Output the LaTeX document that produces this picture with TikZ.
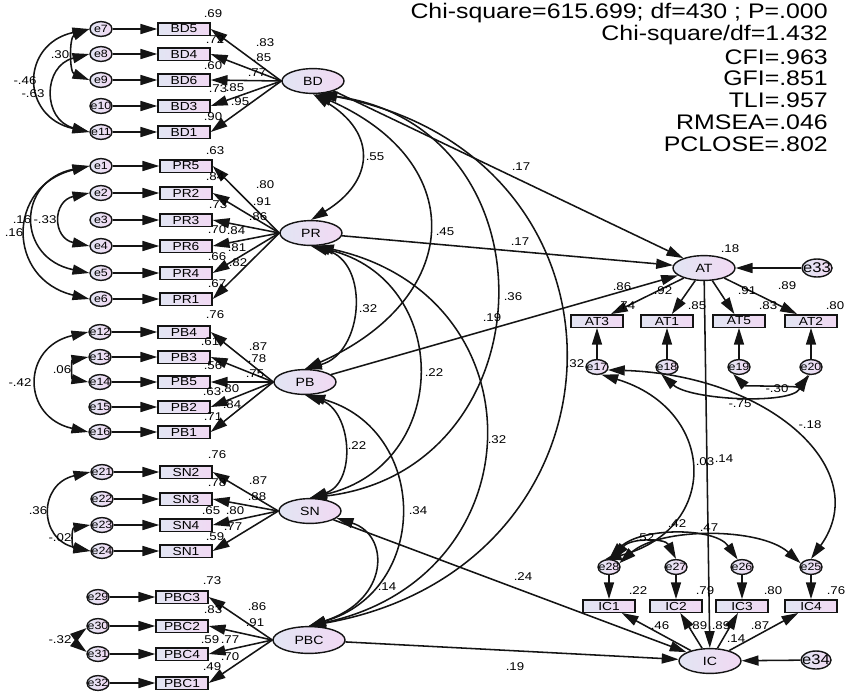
\documentclass[tikz,border=0pt]{standalone}
\usepackage{fontspec}
\setmainfont{Liberation Sans}[FakeStretch=1.18]
\usetikzlibrary{shapes.geometric, arrows.meta}
\definecolor{shadeleft}{RGB}{226,229,243}
\definecolor{shaderight}{RGB}{241,217,243}
\definecolor{linecolor}{RGB}{20,20,20}

\begin{document}
\begin{tikzpicture}[
    x=0.025cm, y=-0.025cm,
    ind/.style={draw=linecolor, line width=1pt, left color=shadeleft, right color=shaderight, minimum width=1.3cm, minimum height=0.31cm, inner sep=0pt, font=\fontsize{8.3}{8.3}\selectfont},
    lat/.style={ellipse, draw=linecolor, line width=1pt, left color=shadeleft, right color=shaderight, minimum width=1.55cm, minimum height=0.62cm, inner sep=0pt, font=\fontsize{8.5}{8.5}\selectfont},
    err/.style={ellipse, draw=linecolor, line width=1pt, left color=shadeleft, right color=shaderight, minimum width=0.55cm, minimum height=0.37cm, inner sep=-2pt, font=\fontsize{7.5}{7.5}\selectfont},
    bigerr/.style={err, minimum width=0.75cm, minimum height=0.45cm, inner sep=-2.5pt, font=\fontsize{10}{10}\selectfont},
    val/.style={inner sep=0pt, font=\fontsize{8}{8}\selectfont},
    fitline/.style={anchor=east, inner sep=0pt, font=\fontsize{15}{15}\selectfont},
    flow/.style={-{Triangle[length=4.2mm, width=2.5mm]}, line width=1.1pt, linecolor},
    cov/.style={{Triangle[length=4.2mm, width=2.5mm]}-{Triangle[length=4.2mm, width=2.5mm]}, line width=1.1pt, linecolor}
]
    \useasboundingbox (0,0) rectangle (848,693);

    % fit indices
    \node[fitline] (chisq) at (828,13) {Chi-square=615.699; df=430 ; P=.000};
    \node[fitline] (cmindf) at (828,35) {Chi-square/df=1.432};
    \node[fitline] (cfi) at (828,57) {CFI=.963};
    \node[fitline] (gfi) at (828,78) {GFI=.851};
    \node[fitline] (tli) at (828,100) {TLI=.957};
    \node[fitline] (rmsea) at (828,122) {RMSEA=.046};
    \node[fitline] (pclose) at (828,144) {PCLOSE=.802};

    % exogenous latents
    \node[lat] (BD) at (313,81) {BD};
    \node[lat] (PR) at (311,233) {PR};
    \node[lat] (PB) at (305,382) {PB};
    \node[lat] (SN) at (310,511) {SN};
    \node[lat, minimum width=1.8cm, minimum height=0.67cm] (PBC) at (309,640) {PBC};

    % indicators on the left
    \foreach \e/\b/\y in {e7/BD5/29, e8/BD4/54, e9/BD6/80, e10/BD3/106, e11/BD1/132}{
        \node[err] (\e) at (101,\y) {\e};
        \node[ind] (\b) at (184,\y) {\b};
        \draw[flow] (\e) -- (\b);
        \draw[flow] (BD.west) -- (\b.east);
    }
    \foreach \e/\b/\y in {e1/PR5/166, e2/PR2/193, e3/PR3/220, e4/PR6/246, e5/PR4/273, e6/PR1/299}{
        \node[err] (\e) at (101,\y) {\e};
        \node[ind] (\b) at (186,\y) {\b};
        \draw[flow] (\e) -- (\b);
        \draw[flow] (PR.west) -- (\b.east);
    }
    \foreach \e/\b/\y in {e12/PB4/332, e13/PB3/357, e14/PB5/382, e15/PB2/407, e16/PB1/432}{
        \node[err] (\e) at (100,\y) {\e};
        \node[ind] (\b) at (184,\y) {\b};
        \draw[flow] (\e) -- (\b);
        \draw[flow] (PB.west) -- (\b.east);
    }
    \foreach \e/\b/\y in {e21/SN2/472, e22/SN3/499, e23/SN4/525, e24/SN1/551}{
        \node[err] (\e) at (102,\y) {\e};
        \node[ind] (\b) at (186,\y) {\b};
        \draw[flow] (\e) -- (\b);
        \draw[flow] (SN.west) -- (\b.east);
    }
    \foreach \e/\b/\y in {e29/PBC3/597, e30/PBC2/626, e31/PBC4/654, e32/PBC1/683}{
        \node[err] (\e) at (98,\y) {\e};
        \node[ind] (\b) at (182,\y) {\b};
        \draw[flow] (\e) -- (\b);
        \draw[flow] (PBC.west) -- (\b.east);
    }

    % endogenous latents
    \node[lat] (AT) at (704,268) {AT};
    \node[bigerr] (e33) at (817,268) {e33};
    \foreach \e/\b/\x in {e17/AT3/597, e18/AT1/667, e19/AT5/739, e20/AT2/811}{
        \node[ind] (\b) at (\x,321) {\b};
        \node[err] (\e) at (\x,367) {\e};
        \draw[flow] (\e) -- (\b);
        \draw[flow] (AT) -- (\b);
    }
    \node[lat] (IC) at (710,661) {IC};
    \node[bigerr] (e34) at (816,660) {e34};
    \foreach \e/\b/\x in {e28/IC1/609, e27/IC2/676, e26/IC3/742, e25/IC4/811}{
        \node[ind] (\b) at (\x,606) {\b};
        \node[err] (\e) at (\x,567) {\e};
        \draw[flow] (\e) -- (\b);
        \draw[flow] (IC) -- (\b);
    }

    % structural paths
    \draw[flow] (BD) -- (AT);
    \draw[flow] (PR) -- (AT);
    \draw[flow] (PB) -- (AT);
    \draw[flow] (SN) -- (IC);
    \draw[flow] (PBC) -- (IC);
    \draw[flow] (AT) -- (IC);
    \draw[flow] (e33) -- (AT);
    \draw[flow] (e34) -- (IC);

    % error covariances, left
    \draw[cov] (e7.west) .. controls +(-20,8) and +(-20,-8) .. (e9.west);
    \draw[cov] (e7.west) .. controls +(-69,15) and +(-69,-15) .. (e11.west);
    \draw[cov] (e8.west) .. controls +(-47,12) and +(-47,-12) .. (e11.west);
    \draw[cov] (e1.west) .. controls +(-83,20) and +(-83,-20) .. (e6.west);
    \draw[cov] (e1.west) .. controls +(-73,15) and +(-73,-15) .. (e5.west);
    \draw[cov] (e2.west) .. controls +(-37,8) and +(-37,-8) .. (e4.west);
    \draw[cov] (e12.west) .. controls +(-67,15) and +(-67,-15) .. (e16.west);
    \draw[cov] (e13.west) .. controls +(-17,3) and +(-17,-3) .. (e14.west);
    \draw[cov] (e21.west) .. controls +(-52,12) and +(-52,-12) .. (e24.west);
    \draw[cov] (e23.west) .. controls +(-19,3) and +(-19,-3) .. (e24.west);
    \draw[cov] (e30.190) .. controls +(-8,6) and +(-8,-6) .. (e31.170);

    % latent covariances
    \draw[cov] (BD.south) .. controls (377,133) and (375,181) .. (PR.north);
    \draw[cov] (BD.-80) .. controls (473,164) and (461,300) .. (PB.north);
    \draw[cov] (BD.-70) .. controls (559,125) and (551,469) .. (SN.north);
    \draw[cov] (BD.-60) .. controls (650,155) and (642,567) .. (PBC.north);
    \draw[cov] (PR.south) .. controls (370,262) and (364,353) .. (PB.north);
    \draw[cov] (PR.-80) .. controls (453,280) and (452,465) .. (SN.north);
    \draw[cov] (PR.-65) .. controls (543,296) and (538,577) .. (PBC.north);
    \draw[cov] (PB.south) .. controls (352,410) and (357,483) .. (SN.north);
    \draw[cov] (PB.-75) .. controls (429,430) and (431,590) .. (PBC.north);
    \draw[cov] (SN.-15) .. controls (390,535) and (390,600) .. (PBC.north);

    % error covariances, right
    \draw[cov] (e17.-15) .. controls (770,375) and (875,470) .. (e25.north);
    \draw[cov] (e18.-130) .. controls (690,400) and (790,405) .. (e20.-110);
    \draw[cov] (e19.-130) .. controls (745,386) and (800,386) .. (e20.-100);
    \draw[cov] (e17.-60) .. controls (718,410) and (720,530) .. (e28.120);
    \draw[cov] (e28.60) .. controls (630,538) and (665,538) .. (e27.north);
    \draw[cov] (e28.north) .. controls (640,527) and (715,527) .. (e26.120);
    \draw[cov] (e28.20) .. controls (660,527) and (760,527) .. (e25.160);

    % estimates
    \foreach \x/\y/\t [count=\i] in {
        213/14/.69, 215/40/.72, 213/66/.60, 218/89/.73, 213/117/.90,
        265/43/.83, 262/58/.85, 257/73/.77, 235/88/.85, 240/102/.95,
        60/55/.30, 25/81/-.46, 33/94/-.63,
        215/151/.63, 215/177/.84, 218/205/.73, 217/230/.70, 217/257/.66, 217/284/.67,
        265/185/.80, 262/202/.91, 258/217/.86, 236/231/.84, 237/248/.81, 238/263/.82,
        22/220/.16, 45/220/-.33, 14/233/.16,
        215/315/.76, 210/342/.61, 213/366/.56, 212/392/.63, 213/417/.71,
        258/347/.87, 257/359/.78, 255/374/.75, 230/389/.80, 232/405/.84,
        62/370/.06, 20/383/-.42,
        217/455/.76, 217/483/.78, 211/511/.65, 215/537/.59,
        258/481/.87, 257/497/.88, 235/511/.80, 233/527/.77,
        38/511/.36, 60/538/-.02,
        212/581/.73, 213/610/.83, 210/640/.59, 212/667/.49,
        257/607/.86, 255/623/.91, 230/640/.77, 230/657/.70,
        60/640/-.32,
        375/157/.55, 445/232/.45, 513/297/.36, 575/364/.32, 368/309/.32,
        434/373/.22, 497/440/.32, 357/446/.22, 418/511/.34, 387/587/.14,
        521/167/.17, 520/242/.17, 492/318/.19, 523/577/.24, 515/667/.19,
        730/249/.18, 622/287/.86, 663/291/.92, 747/291/.91, 787/286/.89,
        626/306/.74, 697/306/.85, 768/306/.83, 835/306/.80,
        777/389/-.30, 740/404/-.75, 810/425/-.18,
        705/462/.03, 724/459/.14,
        677/524/.42, 709/528/.47, 645/538/.52,
        638/591/.22, 705/591/.79, 773/591/.80, 836/591/.76,
        660/626/.46, 698/626/.89, 721/626/.89, 760/626/.87, 736/639/.14}
        \node[val] (est\i) at (\x,\y) {\t};
\end{tikzpicture}
\end{document}
